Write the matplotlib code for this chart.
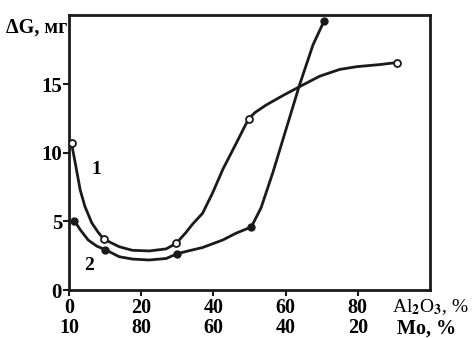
import matplotlib
matplotlib.use("Agg")
import matplotlib.pyplot as plt
import matplotlib.transforms as mtransforms

c1_x = [0.7, 1.7, 3.1, 4.4, 6.3, 8.1, 9.7, 13.9, 17.5, 22.2, 26.9, 29.7, 32.4, 34.2, 37.0,
        39.8, 42.6, 46.3, 48.6, 49.8, 51.5, 54.6, 59.3, 64.3, 69.4, 75.0, 79.7, 86.0, 90.8]
c1_y = [10.7, 9.3, 7.3, 6.1, 4.9, 4.2, 3.7, 3.16, 2.9, 2.85, 3.0, 3.4, 4.2, 4.8, 5.6,
        7.1, 8.8, 10.7, 11.9, 12.5, 12.95, 13.5, 14.2, 14.9, 15.6, 16.1, 16.3, 16.45, 16.6]
c1_px = [0.7, 9.7, 29.7, 49.8, 90.8]
c1_py = [10.7, 3.7, 3.4, 12.5, 16.6]

# curve 2 (filled circles)
c2_x = [1.5, 3.1, 5.3, 7.7, 10.0, 13.9, 17.5, 22.2, 26.9, 30.0, 33.0, 37.0, 42.6, 46.3,
        50.5, 53.2, 56.5, 60.2, 63.9, 67.6, 70.6]
c2_y = [5.06, 4.4, 3.65, 3.2, 2.95, 2.43, 2.26, 2.19, 2.3, 2.65, 2.85, 3.1, 3.65, 4.15,
        4.6, 6.0, 8.6, 11.8, 15.0, 17.9, 19.6]
c2_px = [1.5, 10.0, 30.0, 50.5, 70.6]
c2_py = [5.06, 2.95, 2.65, 4.6, 19.6]

al2o3_ticks = [0, 20, 40, 60, 80]
mo_labels = ["10", "80", "60", "40", "20"]
y_ticks = [0, 5, 10, 15]

plt.rcParams["font.family"] = ["Liberation Serif", "DejaVu Serif"]
plt.rcParams["font.weight"] = "bold"

fig = plt.figure(figsize=(4.74, 3.38), dpi=100)
ax = fig.add_axes([0.1456, 0.142, 0.9072 - 0.1456, 0.9556 - 0.142])

ink = "#1a1a1a"
ax.plot(c1_x, c1_y, "-", color=ink, lw=2.0, zorder=2, solid_joinstyle="round")
ax.plot(c1_px, c1_py, "o", ms=5, mfc="white", mec=ink, mew=1.3, zorder=3)
ax.plot(c2_x, c2_y, "-", color=ink, lw=2.0, zorder=2, solid_joinstyle="round")
ax.plot(c2_px, c2_py, "o", ms=5, mfc=ink, mec=ink, zorder=3)

ax.text(7.5, 8.8, "1", fontsize=14, fontweight="bold", ha="center", va="center")
ax.text(5.6, 1.8, "2", fontsize=14, fontweight="bold", ha="center", va="center")

ax.set_xlim(0, 100)
ax.set_ylim(0, 20.07)
ax.set_yticks(y_ticks)
ax.set_yticklabels([str(v) for v in y_ticks], fontsize=15, fontweight="bold")
ax.set_xticks(al2o3_ticks)
ax.set_xticklabels([f"{a}\n{m}" for a, m in zip(al2o3_ticks, mo_labels)],
                   fontsize=14.5, fontweight="bold", linespacing=1.0)
shift = mtransforms.ScaledTranslation(4 / 100, 0, fig.dpi_scale_trans)
for lab in ax.get_xticklabels():
    lab.set_transform(lab.get_transform() + shift)
ax.tick_params(axis="both", direction="out", length=4, width=1.5, color=ink)
ax.tick_params(axis="x", pad=2)
ax.tick_params(axis="y", pad=1)
for s in ax.spines.values():
    s.set_linewidth(2.0)
    s.set_color(ink)

fig.text(6 / 474, 1 - 28 / 338, "ΔG, мг", fontsize=14.5, fontweight="bold",
         ha="left", va="center")
fig.text(392 / 474, 1 - 307 / 338, "Al$_2$O$_3$, %", fontsize=14, fontweight="normal",
         ha="left", va="center", math_fontfamily="stix")
fig.text(397 / 474, 1 - 329 / 338, "Mo, %", fontsize=14.5, fontweight="bold",
         ha="left", va="center")

fig.savefig("out.png", dpi=100)
